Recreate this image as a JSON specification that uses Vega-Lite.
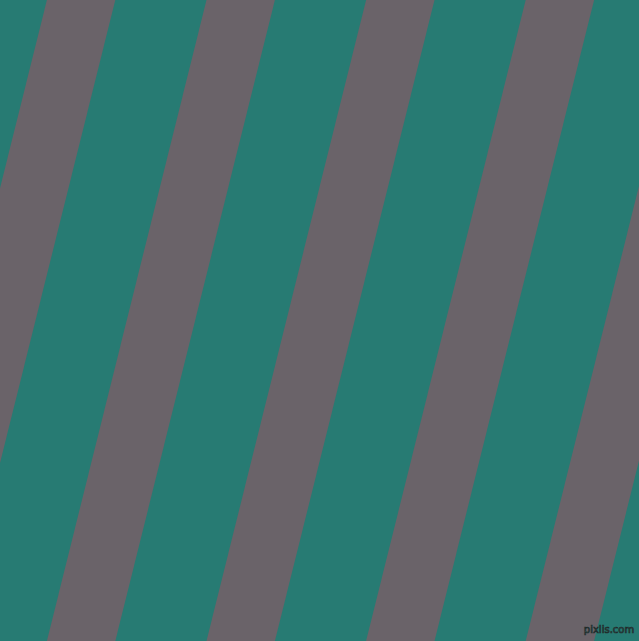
{
  "$schema": "https://vega.github.io/schema/vega-lite/v6.json",
  "width": 639,
  "height": 641,
  "padding": 0,
  "autosize": {"type": "none"},
  "background": "#277b73",
  "config": {"view": {"stroke": null}},
  "layer": [
    {
      "data": {"values": [
        {"s": 0, "y": 0, "x": 46.9, "x2": 115.3},
        {"s": 0, "y": 641, "x": -112.7, "x2": -44.3},
        {"s": 1, "y": 0, "x": 206.5, "x2": 274.9},
        {"s": 1, "y": 641, "x": 46.9, "x2": 115.3},
        {"s": 2, "y": 0, "x": 366.1, "x2": 434.5},
        {"s": 2, "y": 641, "x": 206.5, "x2": 274.9},
        {"s": 3, "y": 0, "x": 525.7, "x2": 594.1},
        {"s": 3, "y": 641, "x": 366.1, "x2": 434.5},
        {"s": 4, "y": 0, "x": 685.3, "x2": 753.7},
        {"s": 4, "y": 641, "x": 525.7, "x2": 594.1}
      ]},
      "mark": {"type": "area", "orient": "horizontal", "clip": true, "color": "#6a6369", "opacity": 1},
      "encoding": {
        "y": {"field": "y", "type": "quantitative", "scale": {"domain": [0, 641], "reverse": true, "nice": false, "zero": false}, "axis": null},
        "x": {"field": "x", "type": "quantitative", "scale": {"domain": [0, 639], "nice": false, "zero": false}, "axis": null},
        "x2": {"field": "x2"},
        "detail": {"field": "s", "type": "nominal"}
      }
    },
    {
      "data": {"values": [{"label": "pixlis.com", "tx": 609, "ty": 630}]},
      "mark": {"type": "text", "fontSize": 10, "font": "DejaVu Sans", "fill": "#3a6f69", "stroke": "#1f2a29", "strokeWidth": 0.7, "align": "center", "baseline": "middle"},
      "encoding": {
        "x": {"field": "tx", "type": "quantitative", "scale": {"domain": [0, 639], "nice": false, "zero": false}, "axis": null},
        "y": {"field": "ty", "type": "quantitative", "scale": {"domain": [0, 641], "reverse": true, "nice": false, "zero": false}, "axis": null},
        "text": {"field": "label"}
      }
    }
  ]
}
